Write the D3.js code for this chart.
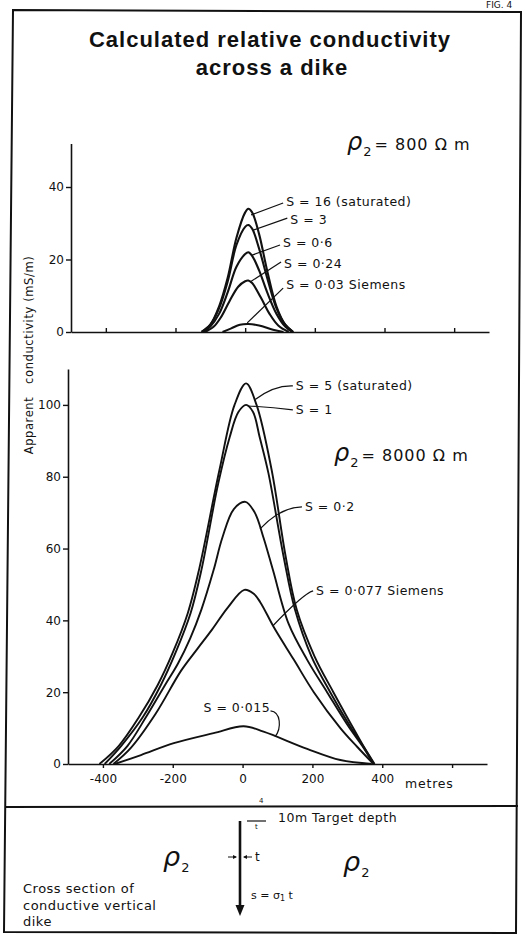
<!DOCTYPE html>
<meta charset="utf-8" />
<script src="https://d3js.org/d3.v7.min.js"></script>
<style>
  body { margin: 0; background: #fff; }
  svg text { fill: #111; font-family: "DejaVu Sans", sans-serif; }
</style>
<div id="chart"></div>
<script>
  // tick values
  const xTicks = [-400, -200, 0, 200, 400, 600];
  const xTickLabels = ["-400", "-200", "0", "200", "400", ""];
  const yTicksTop = [0, 20, 40];
  const yTicksBottom = [0, 20, 40, 60, 80, 100];

  // rho2 = 800 ohm m, [metres, mS/m]
  const topS16 = [[-125,0],[-100,2],[-75,7],[-50,15],[-25,26],[0,33],[9,34],[20,33],[40,27],[63,17],[90,7],[115,2],[138,0]];
  const topS3 = [[-125,0],[-100,2],[-75,6.5],[-50,14],[-25,24],[0,29],[9,29.5],[20,28.5],[40,23],[63,15],[90,6.5],[115,2],[138,0]];
  const topS06 = [[-120,0],[-100,1.5],[-75,5],[-50,11],[-25,18],[0,21.5],[9,22],[20,21],[40,17],[63,11],[90,5],[115,1.5],[135,0]];
  const topS024 = [[-115,0],[-90,1.5],[-70,4],[-45,8.5],[-20,12.5],[0,14],[9,14.2],[20,13.5],[45,9.5],[70,5],[95,1.8],[125,0]];
  const topS003 = [[-65,0],[-40,1],[-15,2],[9,2.2],[40,1.8],[80,0.6],[110,0]];
  const topSeries = [topS16, topS3, topS06, topS024, topS003];
  const topLabels = ["S = 16 (saturated)", "S = 3", "S = 0·6", "S = 0·24", "S = 0·03 Siemens"];

  // rho2 = 8000 ohm m
  const botS5 = [[-410,0],[-355,5],[-297,13],[-243,22],[-200,31],[-157,42],[-125,54],[-66,82],[-23,100],[10,106],[40,100],[83,82],[123,58],[155,43],[206,30],[260,20],[314,10.5],[346,5],[378,0]];
  const botS1 = [[-395,0],[-348,5],[-286,13],[-234,22],[-192,31],[-149,42],[-118,54],[-70,78],[-37,91],[-12,98],[10,100],[30,98],[49,91],[74,81],[117,58],[150,43],[197,30],[251,20],[308,10.5],[345,5],[376,0]];
  const botS02 = [[-382,0],[-330,5],[-277,13],[-222,22],[-185,28],[-150,35],[-118,43],[-83,54],[-58,63],[-25,71],[8,73],[35,70],[60,63],[87,54],[132,39],[185,29],[242,20],[303,10.5],[343,5],[375,0]];
  const botS0077 = [[-370,0],[-320,4.5],[-249,14],[-176,26],[-130,32],[-87,37.5],[-43,43.5],[5,48.5],[31,47.5],[51,45],[90,38],[147,29],[204,20],[280,10],[328,4.8],[375,0]];
  const botS0015 = [[-366,0],[-291,2.5],[-197,5.8],[-83,8.6],[3,10.5],[60,9],[185,4.2],[280,1.1],[370,0]];
  const botSeries = [botS5, botS1, botS02, botS0077, botS0015];
  const botLabels = ["S = 5 (saturated)", "S = 1", "S = 0·2", "S = 0·077 Siemens", "S = 0·015"];

  const W = 524, H = 951;
  const svg = d3.select("#chart").append("svg").attr("width", W).attr("height", H);
  const ink = "#111";

  // frame
  const frame = svg.append("g").attr("stroke", ink).attr("stroke-width", 2).attr("fill", "none");
  frame.append("path").attr("d", "M13,10 L521,12 L516,933 L4,932 Z");
  frame.append("line").attr("x1", 6).attr("y1", 807).attr("x2", 518).attr("y2", 806);

  svg.append("text").attr("x", 486).attr("y", 8).style("font-size", "9px").text("FIG. 4");

  // title
  const title = svg.append("g").attr("text-anchor", "middle")
    .style("font-weight", "bold").style("font-size", "22px").style("letter-spacing", "1px");
  title.append("text").attr("x", 270).attr("y", 47).style("font-family", "'Liberation Sans', Arial, sans-serif").text("Calculated relative conductivity");
  title.append("text").attr("x", 272).attr("y", 75).style("font-family", "'Liberation Sans', Arial, sans-serif").text("across a dike");

  // scales
  const xTop = d3.scaleLinear().domain([-500, 700]).range([71, 489]);
  const yTop = d3.scaleLinear().domain([0, 52]).range([332, 143.5]);
  const xBot = d3.scaleLinear().domain([-500, 700]).range([68, 487]);
  const yBot = d3.scaleLinear().domain([0, 110]).range([764, 369]);

  function styleAxis(g) {
    g.select(".domain").attr("stroke", ink).attr("stroke-width", 1.6);
    g.selectAll(".tick line").attr("stroke", ink).attr("stroke-width", 1.4);
    g.selectAll(".tick text").style("font-size", "12px").attr("fill", ink);
  }

  // top axes
  svg.append("g").attr("transform", `translate(${xTop(-500)},0)`)
    .call(d3.axisLeft(yTop).tickValues(yTicksTop).tickSize(5).tickSizeOuter(0).tickPadding(2))
    .call(styleAxis);
  svg.append("g").attr("transform", `translate(0,${yTop(0)})`)
    .call(d3.axisBottom(xTop).tickValues(xTicks).tickSize(-4).tickSizeOuter(0).tickFormat(""))
    .call(styleAxis);

  // bottom axes
  svg.append("g").attr("transform", `translate(${xBot(-500)},0)`)
    .call(d3.axisLeft(yBot).tickValues(yTicksBottom).tickSize(5).tickSizeOuter(0).tickPadding(2))
    .call(styleAxis);
  svg.append("g").attr("transform", `translate(0,${yBot(0)})`)
    .call(d3.axisBottom(xBot).tickValues(xTicks).tickSize(4).tickSizeOuter(0).tickPadding(6)
      .tickFormat((d, i) => xTickLabels[i]))
    .call(styleAxis);
  svg.append("text").attr("x", 405).attr("y", 788).style("font-size", "12.5px").style("letter-spacing", "0.8px").text("metres");
  svg.append("text").attr("x", 259).attr("y", 803).style("font-size", "7px").text("4");

  // y axis title
  svg.append("text").attr("transform", "translate(33,355) rotate(-90)")
    .attr("text-anchor", "middle").style("font-size", "11.5px").style("letter-spacing", "0.6px")
    .attr("xml:space", "preserve").text("Apparent   conductivity (mS/m)");

  // curves
  const lineTop = d3.line().x(d => xTop(d[0])).y(d => yTop(d[1])).curve(d3.curveCatmullRom.alpha(0.5));
  const lineBot = d3.line().x(d => xBot(d[0])).y(d => yBot(d[1])).curve(d3.curveCatmullRom.alpha(0.5));
  svg.append("g").selectAll("path").data(topSeries).join("path")
    .attr("d", lineTop).attr("fill", "none").attr("stroke", ink).attr("stroke-width", 2.1);
  svg.append("g").selectAll("path").data(botSeries).join("path")
    .attr("d", lineBot).attr("fill", "none").attr("stroke", ink).attr("stroke-width", 1.9);

  // leader lines + labels, top panel
  const topAnn = [
    { from: [17, 32.3], to: [109, 35.6], tv: 35.9 },
    { from: [23, 28.1], to: [121, 31.4], tv: 30.9 },
    { from: [20, 21.2], to: [100, 24], tv: 24.6 },
    { from: [14, 13.8], to: [103, 19.3], tv: 19 },
    { from: [6, 2.5], to: [109, 12.1], tv: 13 }
  ];
  topAnn.forEach((a, i) => {
    svg.append("line").attr("x1", xTop(a.from[0])).attr("y1", yTop(a.from[1]))
      .attr("x2", xTop(a.to[0])).attr("y2", yTop(a.to[1])).attr("stroke", ink).attr("stroke-width", 1.2);
    svg.append("text").attr("x", xTop(a.to[0]) + 3).attr("y", yTop(a.tv)).attr("dy", "0.35em")
      .style("font-size", "12.5px").style("letter-spacing", "0.5px")
      .text(topLabels[i]);
  });

  // leader lines + labels, bottom panel
  const botAnn = [
    { from: [36, 101.5], c: [90, 105.5], to: [144, 105.3], tv: 105.3 },
    { from: [15, 99.7], c: [80, 99.5], to: [144, 98.6], tv: 98.6 },
    { from: [50, 65.5], c: [110, 71.6], to: [170, 71.6], tv: 71.6 },
    { from: [87, 38.5], c: [175, 47.5], to: [202, 48.2], tv: 48.2 }
  ];
  botAnn.forEach((a, i) => {
    const p = d3.path();
    p.moveTo(xBot(a.from[0]), yBot(a.from[1]));
    p.quadraticCurveTo(xBot(a.c[0]), yBot(a.c[1]), xBot(a.to[0]), yBot(a.to[1]));
    svg.append("path").attr("d", p.toString()).attr("fill", "none").attr("stroke", ink).attr("stroke-width", 1.2);
    svg.append("text").attr("x", xBot(a.to[0]) + 3).attr("y", yBot(a.tv)).attr("dy", "0.35em")
      .style("font-size", "12.5px").style("letter-spacing", "0.5px").text(botLabels[i]);
  });
  const hook = d3.path();
  hook.moveTo(xBot(80), yBot(14.8));
  hook.bezierCurveTo(xBot(110), yBot(14.5), xBot(112), yBot(10), xBot(93), yBot(7.6));
  svg.append("path").attr("d", hook.toString()).attr("fill", "none").attr("stroke", ink).attr("stroke-width", 1.2);
  svg.append("text").attr("x", xBot(79)).attr("y", yBot(15.6)).attr("dy", "0.35em").attr("text-anchor", "end")
    .style("font-size", "12.5px").style("letter-spacing", "0.5px").text(botLabels[4]);

  // rho labels
  function rho(x, y, value, big) {
    const t = svg.append("text").attr("x", x).attr("y", y);
    t.append("tspan").style("font-size", big + "px").style("font-style", "italic").text("ρ");
    t.append("tspan").attr("dy", 6).attr("dx", 1).style("font-size", "13px").text("2");
    if (value) t.append("tspan").attr("dy", -6).attr("dx", 3).style("font-size", "16px").style("letter-spacing", "1px").text(value);
  }
  rho(347, 150, "= 800 Ω m", 24);
  rho(334, 461, "= 8000 Ω m", 24);

  // cross section
  rho(163, 866, null, 27);
  rho(343, 871, null, 27);
  const cs = svg.append("g").attr("stroke", ink).attr("fill", ink);
  cs.append("line").attr("x1", 240).attr("y1", 821).attr("x2", 240).attr("y2", 907).attr("stroke-width", 2.6);
  cs.append("path").attr("d", "M235.5,905 L244.5,905 L240,916 Z").attr("stroke", "none");
  cs.append("line").attr("x1", 247).attr("y1", 821).attr("x2", 266).attr("y2", 821).attr("stroke-width", 1.2);
  cs.append("line").attr("x1", 228).attr("y1", 857).attr("x2", 236).attr("y2", 857).attr("stroke-width", 1);
  cs.append("path").attr("d", "M237,857 L233,855 L233,859 Z").attr("stroke", "none");
  cs.append("line").attr("x1", 244).attr("y1", 857).attr("x2", 252).attr("y2", 857).attr("stroke-width", 1);
  cs.append("path").attr("d", "M243,857 L247,855 L247,859 Z").attr("stroke", "none");
  svg.append("text").attr("x", 255).attr("y", 829).style("font-size", "7px").text("t");
  svg.append("text").attr("x", 255).attr("y", 861).style("font-size", "12px").text("t");
  svg.append("text").attr("x", 278).attr("y", 822).style("font-size", "12.5px").style("letter-spacing", "0.5px").text("10m Target depth");
  const sEq = svg.append("text").attr("x", 251).attr("y", 899).style("font-size", "11px");
  sEq.append("tspan").text("s = σ");
  sEq.append("tspan").attr("dy", 2).style("font-size", "8px").text("1");
  sEq.append("tspan").attr("dy", -2).text(" t");
  const cap = svg.append("g").style("font-size", "13px").style("letter-spacing", "0.5px");
  cap.append("text").attr("x", 23).attr("y", 893).text("Cross section of");
  cap.append("text").attr("x", 23).attr("y", 910).text("conductive vertical");
  cap.append("text").attr("x", 23).attr("y", 926).text("dike");
</script>
